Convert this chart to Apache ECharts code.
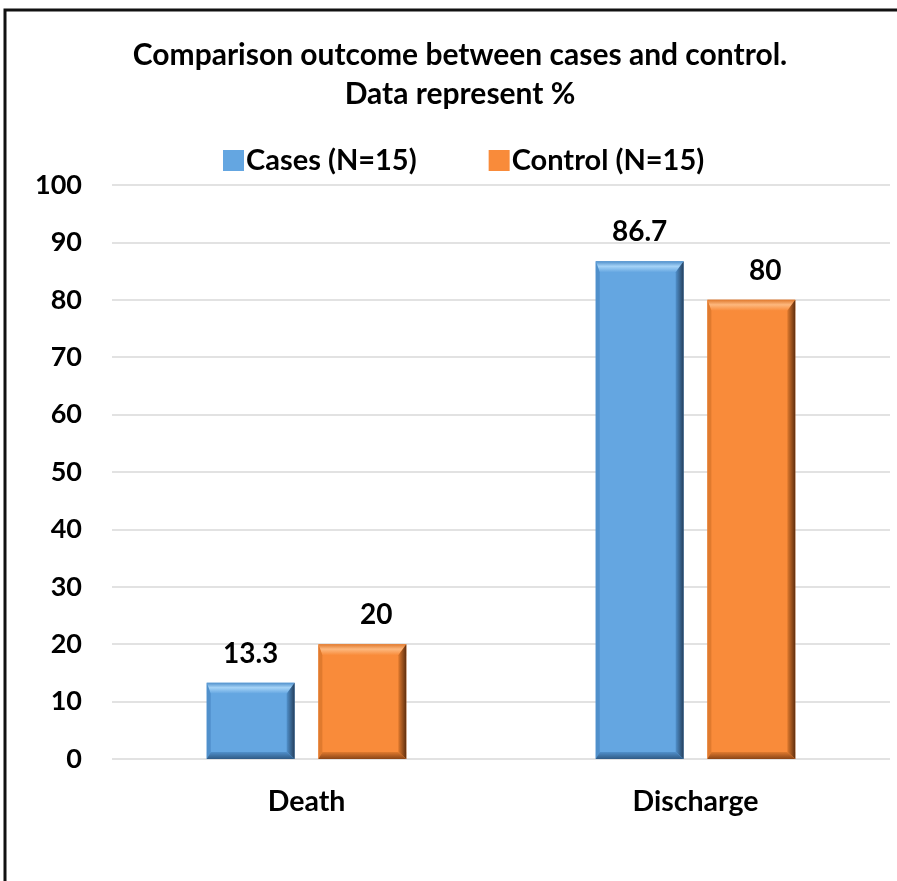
<!DOCTYPE html>
<html>
<head>
<meta charset="utf-8">
<script src="https://cdn.jsdelivr.net/npm/echarts@6/dist/echarts.min.js"></script>
<style>
  html, body { margin: 0; padding: 0; background: #fff; }
  #chart { width: 897px; height: 881px; }
</style>
</head>
<body>
<div id="chart"></div>
<script>
// Outcome categories and percentages per group
const categories = ['Death', 'Discharge'];
const seriesNames = ['Cases (N=15)', 'Control (N=15)'];
const casesValues = [13.3, 86.7];
const controlValues = [20, 80];
const yTicks = [0, 10, 20, 30, 40, 50, 60, 70, 80, 90, 100];
const titleLines = ['Comparison outcome between cases and control.', 'Data represent %'];

const FONT = 'Lato, Carlito, "Open Sans", sans-serif';

// Base colour and bevel shades for each series
const palette = [
  { base: '#64A6E1', light: '#A5D3F7', side: '#5090CB', dark: '#253F5C', bottom: '#2F5A85' },
  { base: '#F98B3A', light: '#FDB87E', side: '#E07A2E', dark: '#5E2E0E', bottom: '#8A4416' }
];
const labelShift = [0, 14];

const chart = echarts.init(document.getElementById('chart'));

function bevelBar(seriesIdx) {
  return function (params, api) {
    const cat = api.value(0);
    const val = api.value(1);
    const top = api.coord([cat, val]);
    const base = api.coord([cat, 0]);
    const band = api.size([1, 0])[0];
    const w = band * 0.226;
    const gap = w * 0.27;
    const cx = top[0] + (seriesIdx === 0 ? -(w + gap) / 2 : (w + gap) / 2);
    const x0 = cx - w / 2, x1 = cx + w / 2;
    const y0 = top[1], y1 = base[1];
    const h = y1 - y0;
    const bt = Math.min(11, h / 3), bb = Math.min(7, h / 4);
    const bl = 4, br = 8;
    const c = palette[seriesIdx];
    const lg = (x, y, x2, y2, stops) => new echarts.graphic.LinearGradient(x, y, x2, y2, stops);
    return {
      type: 'group',
      children: [
        { type: 'rect', shape: { x: x0, y: y0, width: w, height: h }, style: { fill: c.base } },
        // top bevel
        { type: 'polygon', shape: { points: [[x0, y0], [x1, y0], [x1 - br, y0 + bt], [x0 + bl, y0 + bt]] },
          style: { fill: lg(0, 0, 0, 1, [{ offset: 0, color: c.side }, { offset: 0.45, color: c.light }, { offset: 1, color: c.base }]) } },
        // left bevel
        { type: 'polygon', shape: { points: [[x0, y0], [x0 + bl, y0 + bt], [x0 + bl, y1 - bb], [x0, y1]] },
          style: { fill: c.side } },
        // right bevel
        { type: 'polygon', shape: { points: [[x1, y0], [x1, y1], [x1 - br, y1 - bb], [x1 - br, y0 + bt]] },
          style: { fill: lg(0, 0, 1, 0, [{ offset: 0, color: c.side }, { offset: 1, color: c.dark }]) } },
        // bottom bevel
        { type: 'polygon', shape: { points: [[x0, y1], [x0 + bl, y1 - bb], [x1 - br, y1 - bb], [x1, y1]] },
          style: { fill: lg(0, 0, 0, 1, [{ offset: 0, color: c.side }, { offset: 1, color: c.bottom }]) } },
        { type: 'text', x: cx + labelShift[seriesIdx], y: y0 - 29,
          style: { text: String(val), fill: '#000', font: 'bold 28px ' + FONT, align: 'center', verticalAlign: 'middle' } }
      ]
    };
  };
}

const option = {
  backgroundColor: '#fff',
  animation: false,
  legend: {
    top: 141,
    left: 218,
    itemWidth: 21,
    itemHeight: 21,
    itemGap: 72,
    icon: 'rect',
    textStyle: { fontFamily: FONT, fontWeight: 'bold', fontSize: 29, color: '#000', padding: [0, 0, 0, -3] },
    data: seriesNames
  },
  grid: { left: 112, right: 7, top: 185, bottom: 122, containLabel: false },
  xAxis: {
    type: 'category',
    data: categories,
    axisLine: { show: false },
    axisTick: { show: false },
    axisLabel: { fontFamily: FONT, fontWeight: 'bold', fontSize: 28.5, color: '#000', margin: 28 }
  },
  yAxis: {
    type: 'value',
    min: yTicks[0],
    max: yTicks[yTicks.length - 1],
    interval: yTicks[1] - yTicks[0],
    axisLine: { show: false },
    axisTick: { show: false },
    splitLine: { lineStyle: { color: '#D9D9D9', width: 1.5 } },
    axisLabel: { fontFamily: FONT, fontWeight: 'bold', fontSize: 27, color: '#000', margin: 30 }
  },
  graphic: [
    // two-line heading, centred a little right of the page middle
    { type: 'text', x: 460, y: 55,
      style: { text: titleLines[0], fill: '#000', font: 'bold 30px ' + FONT, align: 'center', verticalAlign: 'middle' } },
    { type: 'text', x: 460, y: 94,
      style: { text: titleLines[1], fill: '#000', font: 'bold 30px ' + FONT, align: 'center', verticalAlign: 'middle' } },
    // outer frame
    { type: 'rect', shape: { x: 5, y: 10, width: 1000, height: 1000 },
      style: { fill: 'none', stroke: '#111', lineWidth: 3 }, z: 100 }
  ],
  series: [
    {
      name: seriesNames[0], type: 'custom', renderItem: bevelBar(0),
      itemStyle: { color: palette[0].base },
      encode: { x: 0, y: 1 },
      data: casesValues.map((v, i) => [i, v])
    },
    {
      name: seriesNames[1], type: 'custom', renderItem: bevelBar(1),
      itemStyle: { color: palette[1].base },
      encode: { x: 0, y: 1 },
      data: controlValues.map((v, i) => [i, v])
    }
  ]
};

chart.setOption(option);
</script>
</body>
</html>
